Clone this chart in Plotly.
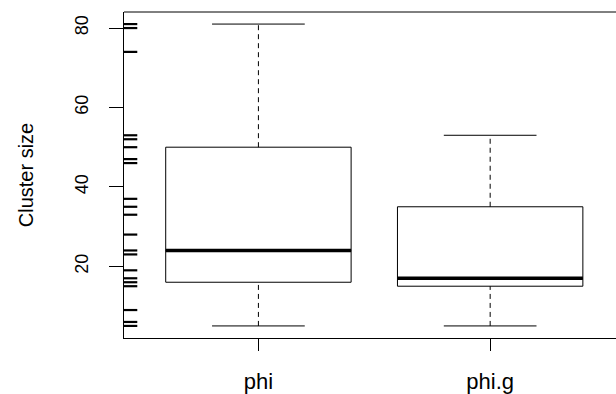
import plotly.graph_objects as go

# ---- data ----
groups = ["phi", "phi.g"]
mins = [5, 5]
q1s = [16, 15]
medians = [24, 17]
q3s = [50, 35]
maxs = [81, 53]
rug_values = [81, 80, 74, 53, 52, 50, 47, 46, 37, 35, 33, 28, 24, 23,
              19, 17, 16, 15, 9, 6, 5]
y_ticks = [20, 40, 60, 80]
y_label = "Cluster size"

positions = list(range(1, len(groups) + 1))
BOXW = 0.8
STAPLE = 0.2
FONT = "Liberation Sans, Arial, Helvetica, sans-serif"

fig = go.Figure()

for pos, a, b, c in zip(positions, q1s, medians, q3s):
    fig.add_trace(go.Box(
        x=[pos], q1=[a], median=[b], q3=[c], lowerfence=[a], upperfence=[c],
        width=BOXW, whiskerwidth=0, boxpoints=False,
        fillcolor="rgba(0,0,0,0)", line=dict(color="black", width=1),
        showlegend=False, hoverinfo="skip"))

# dashed whiskers
wx, wy = [], []
for pos, lo, a, c, hi in zip(positions, mins, q1s, q3s, maxs):
    wx += [pos, pos, None, pos, pos, None]
    wy += [c, hi, None, lo, a, None]
fig.add_trace(go.Scatter(x=wx, y=wy, mode="lines",
                         line=dict(color="black", width=1, dash="5px,4px"),
                         showlegend=False, hoverinfo="skip"))

# staples
sx, sy = [], []
for pos, lo, hi in zip(positions, mins, maxs):
    sx += [pos - STAPLE, pos + STAPLE, None, pos - STAPLE, pos + STAPLE, None]
    sy += [hi, hi, None, lo, lo, None]
fig.add_trace(go.Scatter(x=sx, y=sy, mode="lines",
                         line=dict(color="black", width=1),
                         showlegend=False, hoverinfo="skip"))

# thick medians
mx, my = [], []
for pos, m in zip(positions, medians):
    mx += [pos - BOXW / 2, pos + BOXW / 2, None]
    my += [m, m, None]
fig.add_trace(go.Scatter(x=mx, y=my, mode="lines",
                         line=dict(color="black", width=3.5),
                         showlegend=False, hoverinfo="skip"))

shapes = [dict(type="line", xref="paper", yref="paper", x0=0, x1=1, y0=1, y1=1,
               line=dict(color="black", width=1))]
for v in rug_values:
    shapes.append(dict(type="line", xref="paper", yref="y", x0=0, x1=0.027,
                       y0=v, y1=v, line=dict(color="black", width=2.2)))

fig.update_layout(
    width=616, height=394,
    margin=dict(l=124, r=0, t=12, b=49),
    plot_bgcolor="white", paper_bgcolor="white",
    font=dict(family=FONT, size=18, color="black"),
    shapes=shapes,
    xaxis=dict(range=[0.42, 2.543], tickvals=positions, ticktext=groups,
               ticks="outside", ticklen=12, tickcolor="black",
               tickfont=dict(size=22),
               showline=True, linecolor="black", linewidth=1,
               showgrid=False, zeroline=False, ticklabelstandoff=12),
    yaxis=dict(range=[1.96, 84.04], tickvals=y_ticks, tickangle=-90,
               ticks="outside", ticklen=14, tickcolor="black",
               tickfont=dict(size=18),
               showline=True, linecolor="black", linewidth=1,
               showgrid=False, zeroline=False, ticklabelstandoff=14,
               title=dict(text=y_label, standoff=32, font=dict(size=20))),
)

fig.write_html("out.html")
